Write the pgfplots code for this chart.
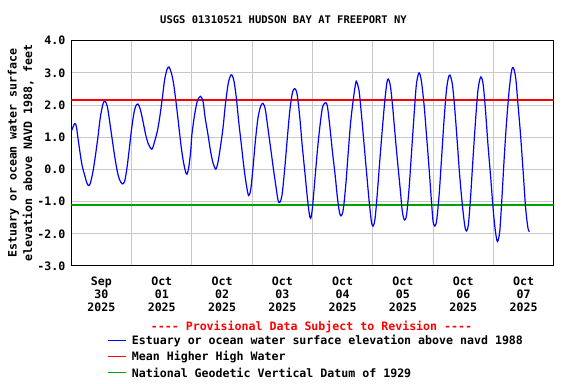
\documentclass[border=0pt]{standalone}
\usepackage{fontspec}
\setmainfont{DejaVu Sans Mono}[Ligatures=TeXOff, BoldFont={DejaVu Sans Mono Bold}]
\usepackage{pgfplots}
\pgfplotsset{compat=1.18}
\definecolor{gridgray}{RGB}{200,200,200}
\definecolor{mhhwred}{RGB}{255,0,0}
\definecolor{ngvdgreen}{RGB}{0,165,0}
\definecolor{dblue}{RGB}{0,0,255}
\newcommand{\lf}{\fontsize{11.6bp}{13bp}\selectfont\bfseries}
\begin{document}
\begin{tikzpicture}
\begin{axis}[
  at={(71.3bp,118bp)}, anchor=south west,
  scale only axis, width=482.4bp, height=225.4bp,
  xmin=0, xmax=8, ymin=-3, ymax=4,
  xtick={0.5,1.5,2.5,3.5,4.5,5.5,6.5,7.5},
  xticklabels={{Sep\\30\\2025},{Oct\\01\\2025},{Oct\\02\\2025},{Oct\\03\\2025},{Oct\\04\\2025},{Oct\\05\\2025},{Oct\\06\\2025},{Oct\\07\\2025}},
  minor xtick={1,2,3,4,5,6,7},
  xminorgrids,
  ytick={-3,-2,-1,0,1,2,3,4},
  ymajorgrids,
  major grid style={gridgray, line width=1bp},
  minor grid style={gridgray, line width=1bp},
  major tick length=0pt, minor tick length=0pt,
  axis line style={black, line width=1bp},
  /pgf/number format/assume math mode=true,
  yticklabel style={/pgf/number format/fixed, /pgf/number format/fixed zerofill, /pgf/number format/precision=1, font=\lf, xshift=-2.4bp},
  xticklabel style={align=center, font=\lf, yshift=-7.5bp},
]
\addplot[color=mhhwred, no markers, line width=1.5bp] table {
x y
0 2.16
8 2.16
};
\addplot[color=ngvdgreen, no markers, line width=2bp] table {
x y
0 -1.11
8 -1.11
};
\addplot[color=dblue, no markers, line width=1.2bp, smooth, tension=0.5] table {
x y
0.000 1.18
0.055 1.42
0.083 1.34
0.110 0.98
0.138 0.61
0.177 0.14
0.220 -0.17
0.260 -0.43
0.288 -0.50
0.316 -0.43
0.360 -0.06
0.398 0.40
0.440 0.98
0.480 1.60
0.525 2.03
0.558 2.12
0.597 1.96
0.636 1.49
0.675 0.98
0.720 0.40
0.763 -0.06
0.800 -0.32
0.846 -0.45
0.885 -0.37
0.923 0.04
0.957 0.56
0.995 1.18
1.034 1.70
1.067 1.96
1.106 2.03
1.145 1.86
1.189 1.49
1.233 1.08
1.272 0.82
1.316 0.66
1.344 0.64
1.382 0.87
1.426 1.18
1.465 1.60
1.510 2.22
1.548 2.79
1.587 3.10
1.620 3.18
1.659 3.00
1.698 2.64
1.742 2.01
1.780 1.39
1.825 0.66
1.863 0.20
1.896 -0.08
1.918 -0.15
1.946 0.04
1.980 0.56
2.000 1.08
2.045 1.70
2.090 2.12
2.140 2.27
2.184 2.12
2.220 1.60
2.267 1.08
2.310 0.56
2.350 0.20
2.395 0.01
2.430 0.20
2.470 0.66
2.516 1.29
2.555 2.01
2.600 2.64
2.637 2.90
2.665 2.93
2.698 2.74
2.737 2.22
2.776 1.49
2.820 0.77
2.864 0.04
2.903 -0.48
2.940 -0.81
2.975 -0.63
3.013 0.04
3.052 0.87
3.096 1.60
3.140 1.96
3.180 2.05
3.218 1.86
3.260 1.29
3.306 0.66
3.350 0.04
3.390 -0.48
3.428 -0.95
3.456 -1.03
3.495 -0.79
3.540 0.04
3.578 0.87
3.623 1.81
3.667 2.38
3.706 2.51
3.745 2.33
3.790 1.60
3.828 0.77
3.872 -0.06
3.910 -0.79
3.945 -1.36
3.970 -1.52
3.998 -1.21
4.037 -0.37
4.080 0.56
4.120 1.29
4.164 1.91
4.210 2.07
4.247 1.96
4.290 1.29
4.330 0.56
4.375 -0.17
4.414 -0.89
4.450 -1.36
4.480 -1.44
4.513 -1.21
4.552 -0.48
4.590 0.46
4.634 1.49
4.680 2.22
4.717 2.69
4.735 2.71
4.773 2.43
4.812 1.70
4.856 0.77
4.900 -0.17
4.940 -1.00
4.977 -1.62
5.005 -1.76
5.038 -1.52
5.077 -0.69
5.115 0.25
5.160 1.29
5.204 2.22
5.245 2.79
5.287 2.64
5.326 2.01
5.365 1.18
5.410 0.25
5.453 -0.58
5.490 -1.31
5.526 -1.57
5.560 -1.41
5.602 -0.58
5.640 0.46
5.685 1.70
5.723 2.64
5.767 3.00
5.806 2.74
5.850 2.01
5.890 1.08
5.933 0.04
5.975 -1.05
6.000 -1.62
6.030 -1.76
6.060 -1.57
6.100 -0.79
6.137 0.25
6.180 1.49
6.220 2.43
6.253 2.84
6.280 2.93
6.320 2.64
6.358 1.91
6.400 0.87
6.440 -0.17
6.485 -1.10
6.523 -1.72
6.550 -1.91
6.585 -1.72
6.624 -0.79
6.662 0.35
6.707 1.60
6.745 2.48
6.790 2.87
6.830 2.64
6.870 1.81
6.910 0.77
6.956 -0.27
6.990 -1.10
7.027 -1.83
7.066 -2.24
7.105 -1.93
7.138 -1.00
7.176 0.25
7.215 1.39
7.260 2.43
7.300 3.05
7.330 3.16
7.370 2.84
7.408 2.01
7.450 1.08
7.497 -0.17
7.535 -1.21
7.574 -1.83
7.600 -1.93
};
\end{axis}
\node[font=\fontsize{10.5bp}{12bp}\selectfont\bfseries] at (283.5bp,364bp) {USGS 01310521 HUDSON BAY AT FREEPORT NY};
\node[rotate=90, align=center, font=\fontsize{11.6bp}{15.5bp}\selectfont\bfseries] at (20.75bp,231bp) {Estuary or ocean water surface\\elevation above NAVD 1988, feet};
\node[text=mhhwred, font=\lf] at (311.5bp,57.3bp) {---- Provisional Data Subject to Revision ----};
\draw[dblue, line width=1bp] (108bp,43bp) -- (126bp,43bp);
\node[anchor=west, inner sep=0pt, font=\lf] at (131.7bp,43bp) {Estuary or ocean water surface elevation above navd 1988};
\draw[mhhwred, line width=1bp] (108bp,27bp) -- (126bp,27bp);
\node[anchor=west, inner sep=0pt, font=\lf] at (131.7bp,27bp) {Mean Higher High Water};
\draw[ngvdgreen, line width=1bp] (108bp,11bp) -- (126bp,11bp);
\node[anchor=west, inner sep=0pt, font=\lf] at (131.7bp,11bp) {National Geodetic Vertical Datum of 1929};
\pgfresetboundingbox
\path (0,0) rectangle (576bp,384bp);
\end{tikzpicture}
\end{document}
